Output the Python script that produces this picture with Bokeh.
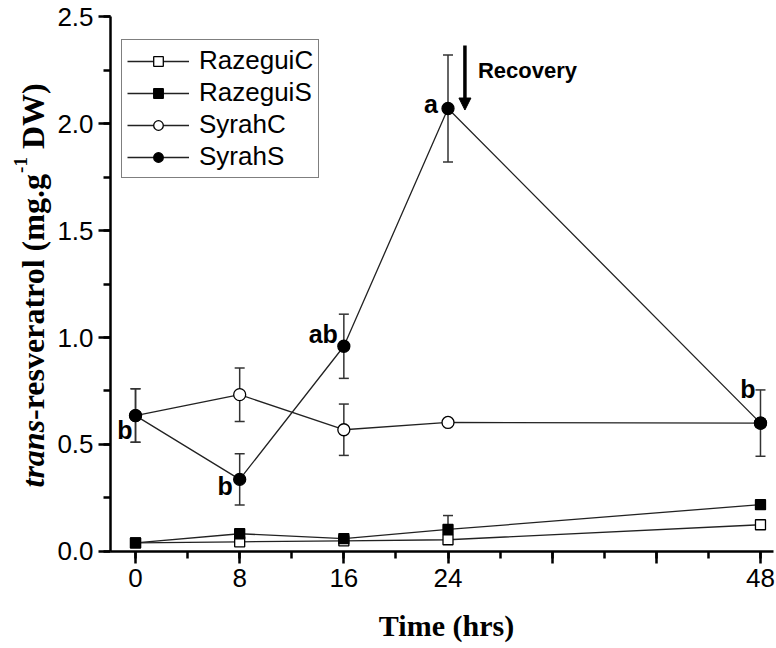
import math
from bokeh.plotting import figure
from bokeh.models import (ColumnDataSource, Whisker, TeeHead, Legend, LegendItem,
                          FixedTicker, Label, Arrow, NormalHead)
from bokeh.embed import file_html
from bokeh.resources import INLINE

# ---------------- data ----------------
time_hrs = [0, 8, 16, 24, 48]
series_names = ["RazeguiC", "RazeguiS", "SyrahC", "SyrahS"]
razegui_c = [0.040, 0.045, 0.050, 0.055, 0.125]
razegui_c_err = [0.005, 0.010, 0.010, 0.015, 0.010]
razegui_s = [0.040, 0.083, 0.060, 0.103, 0.219]
razegui_s_err = [0.010, 0.015, 0.010, 0.065, 0.015]
syrah_c = [0.635, 0.733, 0.569, 0.603, 0.600]
syrah_c_err = [0.125, 0.125, 0.120, 0.012, 0.020]
syrah_s = [0.635, 0.337, 0.959, 2.070, 0.600]
syrah_s_err = [0.125, 0.120, 0.150, 0.250, 0.155]
syrah_s_letters = ["b", "b", "ab", "a", "b"]

x_major_ticks = [0, 8, 16, 24, 32, 40, 48]
x_minor_ticks = [0, 4, 8, 12, 16, 20, 24, 28, 32, 36, 40, 44, 48]
x_tick_labels = {0: "0", 8: "8", 16: "16", 24: "24", 32: "", 40: "", 48: "48"}
y_major_ticks = [0.0, 0.5, 1.0, 1.5, 2.0, 2.5]
y_minor_ticks = [0.0, 0.25, 0.5, 0.75, 1.0, 1.25, 1.5, 1.75, 2.0, 2.25, 2.5]
y_tick_labels = {0.0: "0.0", 0.5: "0.5", 1.0: "1.0", 1.5: "1.5", 2.0: "2.0", 2.5: "2.5"}
x_axis_span = (-1.92, 49.0)
y_axis_span = (0.0, 2.5)
recovery_text = "Recovery"
x_title = "Time (hrs)"

W, H = 776, 648
p = figure(width=W, height=H, output_backend="svg", toolbar_location=None,
           x_range=(-10.37, 49.23), y_range=(-0.4533, 2.5748),
           min_border_left=0, min_border_right=0, min_border_top=0,
           min_border_bottom=0)
p.outline_line_color = None
p.xgrid.visible = False
p.ygrid.visible = False
p.background_fill_color = "white"
p.border_fill_color = "white"

# ---------------- axes (drawn at fixed data positions) ----------------
p.xaxis.fixed_location = y_axis_span[0]
p.yaxis.fixed_location = x_axis_span[0]
p.xaxis.bounds = x_axis_span
p.yaxis.bounds = y_axis_span
for ax in (p.xaxis[0], p.yaxis[0]):
    ax.axis_line_width = 2.5
    ax.major_tick_line_width = 2.5
    ax.minor_tick_line_width = 2.5
    ax.major_tick_out = 12
    ax.major_tick_in = 0
    ax.minor_tick_out = 7
    ax.minor_tick_in = 0
    ax.major_label_text_font = "Liberation Sans"
    ax.major_label_text_font_size = "26px"
    ax.major_label_text_color = "black"
    ax.axis_line_color = "black"

p.xaxis.ticker = FixedTicker(ticks=x_major_ticks, minor_ticks=x_minor_ticks)
p.xaxis.major_label_overrides = x_tick_labels
p.xaxis.major_label_standoff = 6
p.yaxis.ticker = FixedTicker(ticks=y_major_ticks, minor_ticks=y_minor_ticks)
p.yaxis.major_label_overrides = y_tick_labels
p.yaxis.major_label_standoff = 5

# ---------------- series ----------------
src = ColumnDataSource(dict(
    t=time_hrs,
    rc=razegui_c, rc_lo=[v - e for v, e in zip(razegui_c, razegui_c_err)],
    rc_hi=[v + e for v, e in zip(razegui_c, razegui_c_err)],
    rs=razegui_s, rs_lo=[v - e for v, e in zip(razegui_s, razegui_s_err)],
    rs_hi=[v + e for v, e in zip(razegui_s, razegui_s_err)],
    sc=syrah_c, sc_lo=[v - e for v, e in zip(syrah_c, syrah_c_err)],
    sc_hi=[v + e for v, e in zip(syrah_c, syrah_c_err)],
    ss=syrah_s, ss_lo=[v - e for v, e in zip(syrah_s, syrah_s_err)],
    ss_hi=[v + e for v, e in zip(syrah_s, syrah_s_err)],
))

for key in ("rc", "rs", "sc", "ss"):
    w = Whisker(base="t", lower=key + "_lo", upper=key + "_hi", source=src,
                line_color="#333333", line_width=1.5,
                upper_head=TeeHead(size=10, line_color="#333333", line_width=1.5),
                lower_head=TeeHead(size=10, line_color="#333333", line_width=1.5))
    p.add_layout(w)

specs = [
    ("rc", "square", "white", 10),
    ("rs", "square", "black", 10),
    ("sc", "circle", "white", 12),
    ("ss", "circle", "black", 12),
]
items = []
for (key, marker, fill, size), name in zip(specs, series_names):
    ln = p.line("t", key, source=src, line_color="#222222", line_width=1.3)
    mk = p.scatter("t", key, source=src, marker=marker, size=size,
                   fill_color=fill, line_color="black", line_width=1.3)
    items.append(LegendItem(label=name, renderers=[ln, mk]))

legend = Legend(items=items, location=(121, 470), orientation="vertical",
                label_text_font="Liberation Sans", label_text_font_size="26px",
                label_text_color="black", glyph_width=62, glyph_height=24,
                label_standoff=10, spacing=1, padding=5, margin=0,
                border_line_color="black", border_line_width=1.5,
                background_fill_alpha=1.0)
p.add_layout(legend, "center")

# ---------------- significance letters ----------------
letter_offsets = [(-3, -14), (-7, -7), (-6, 12), (-10, 5), (-5, 34)]
for t, v, txt, (dx, dy) in zip(time_hrs, syrah_s, syrah_s_letters, letter_offsets):
    p.add_layout(Label(x=t, y=v, text=txt, x_offset=dx, y_offset=dy,
                       text_align="right", text_baseline="middle",
                       text_font="Liberation Sans", text_font_style="bold",
                       text_font_size="25px", text_color="black"))

# ---------------- recovery arrow ----------------
p.add_layout(Arrow(end=NormalHead(size=12, fill_color="black", line_color="black"),
                   x_start=25.3, y_start=2.365, x_end=25.3, y_end=2.063,
                   line_width=3.5, line_color="black"))
p.add_layout(Label(x=26.3, y=2.25, text=recovery_text, text_align="left",
                   text_baseline="middle", text_font="Liberation Sans",
                   text_font_style="bold", text_font_size="22px",
                   text_color="black"))

# ---------------- axis titles (as labels, screen px from bottom-left) ----------------
p.add_layout(Label(x=446, y=H - 625, x_units="screen", y_units="screen", text=x_title,
                   text_align="center", text_baseline="middle",
                   text_font="Liberation Serif", text_font_style="bold",
                   text_font_size="30px", text_color="black"))

F = 32.0
SF = 19.0
pos = H - 487.0
bx = 32.0
parts = [
    ("trans", "bold italic", F, 0.0, 2.112 * F),
    ("-resveratrol (mg.g", "bold", F, 0.0, 7.719 * F),
    ("-1", "bold", SF, -12.0, 0.833 * SF + 0.25 * F),
    ("DW)", "bold", F, 0.0, 2.055 * F),
]
for txt, style, fs, shift, length in parts:
    p.add_layout(Label(x=bx + shift, y=pos, x_units="screen", y_units="screen",
                       text=txt, angle=math.pi / 2, text_align="left",
                       text_baseline="alphabetic", text_font="Liberation Serif",
                       text_font_style=style, text_font_size=f"{fs:.0f}px",
                       text_color="black"))
    pos += length

open("out.html", "w").write(file_html(p, INLINE))
